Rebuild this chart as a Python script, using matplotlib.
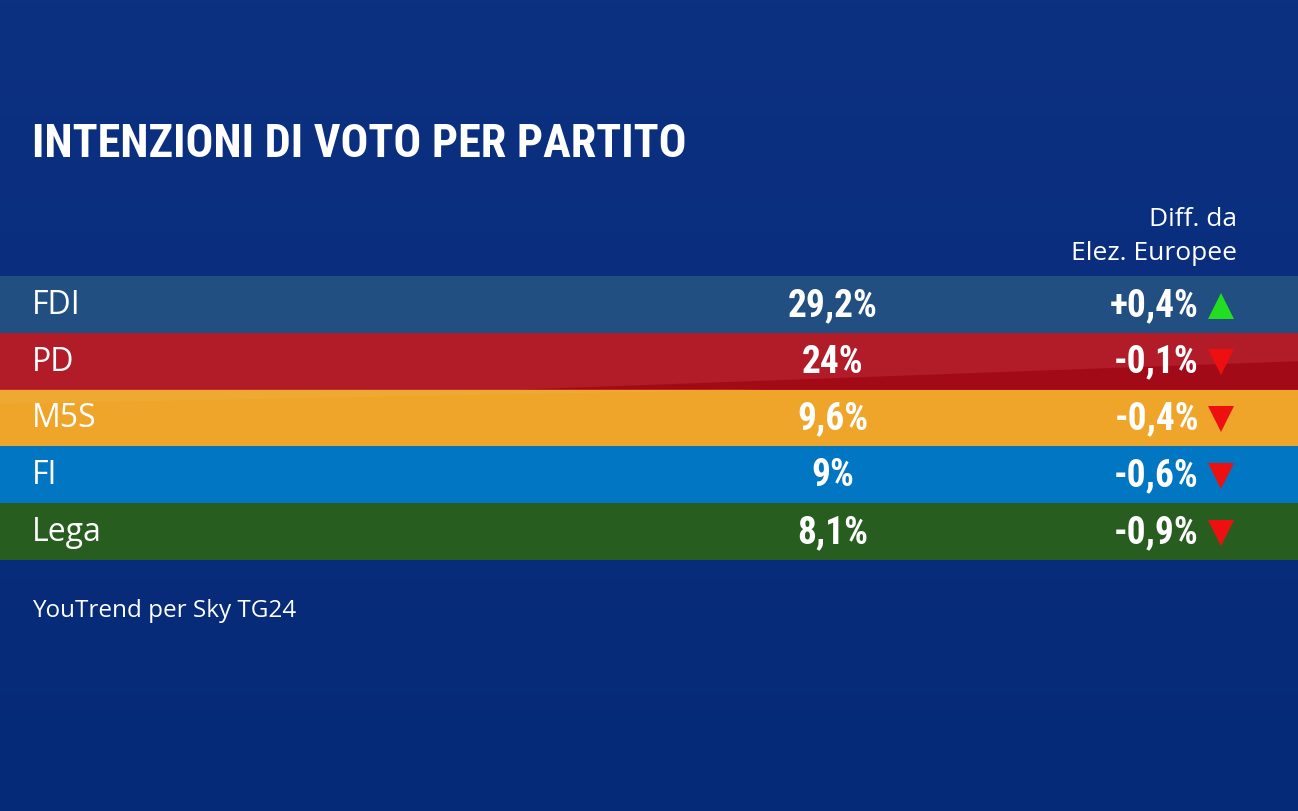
import matplotlib
matplotlib.use("Agg")
import matplotlib.pyplot as plt
from matplotlib import font_manager
import numpy as np

parties = ["FDI", "PD", "M5S", "FI", "Lega"]
values = ["29,2%", "24%", "9,6%", "9%", "8,1%"]
diffs = ["+0,4%", "-0,1%", "-0,4%", "-0,6%", "-0,9%"]
trend = [1, -1, -1, -1, -1]
row_colors = ["#214f82", "#b11c28", "#eea52a", "#0176c3", "#285d20"]


def pick(names):
    for n in names:
        try:
            font_manager.findfont(n, fallback_to_default=False)
            return n
        except Exception:
            pass
    return "DejaVu Sans"


narrow = pick(["Liberation Sans Narrow", "DejaVu Sans Condensed", "Roboto Condensed"])
plain = pick(["Open Sans", "Noto Sans", "Lato"])

W, H = 1298, 812
fig = plt.figure(figsize=(W / 100, H / 100), dpi=100)

# background
bg = fig.add_axes([0, 0, 1, 1])
grad = np.linspace(0, 1, 256).reshape(-1, 1)
bg.imshow(grad, aspect="auto", extent=[0, W, H, 0],
          cmap=matplotlib.colors.LinearSegmentedColormap.from_list("bg", ["#0d3181", "#052a77"]))
bg.set_xlim(0, W)
bg.set_ylim(H, 0)
bg.axis("off")

bg.text(32, 144, "INTENZIONI DI VOTO PER PARTITO", color="white", fontsize=33.3,
        fontweight="bold", family=narrow, va="center", ha="left")
bg.text(1237, 219, "Diff. da", color="white", fontsize=19, family=plain,
        va="center", ha="right")
bg.text(1237, 253, "Elez. Europee", color="white", fontsize=19, family=plain,
        va="center", ha="right")
bg.text(32, 611, "YouTrend per Sky TG24", color="white", fontsize=17.5, family=plain,
        va="center", ha="left")

# table rows
top, bottom = 277, 561
ax = fig.add_axes([0, 1 - bottom / H, 1, (bottom - top) / H])
ax.set_xlim(0, W)
n = len(parties)
ax.set_ylim(n - 0.5, -0.5)
ax.axis("off")
ax.barh(range(n), W, left=0, height=1.0, color=row_colors)

# glossy sweep across PD / M5S rows
ax.fill([520, W, W], [1.5, 1.0, 1.5], color="#a30a18", lw=0)
ax.fill([0, 760, 0], [1.5, 1.5, 1.75], color="#f3b040", lw=0, alpha=0.35)

for i in range(n):
    ax.text(32, i, parties[i], color="white", fontsize=23, family=plain,
            va="center", ha="left")
    ax.text(833, i, values[i], color="white", fontsize=27, fontweight="bold",
            family=narrow, va="center", ha="center")
    ax.text(1199, i, diffs[i], color="white", fontsize=27, fontweight="bold",
            family=narrow, va="center", ha="right")
    if trend[i] > 0:
        ax.plot(1221, i + 0.02, marker="^", markersize=19, color="#22dd22",
                markeredgewidth=0)
    else:
        ax.plot(1221, i + 0.02, marker="v", markersize=19, color="#ee1010",
                markeredgewidth=0)

fig.savefig("out.png", dpi=100)
